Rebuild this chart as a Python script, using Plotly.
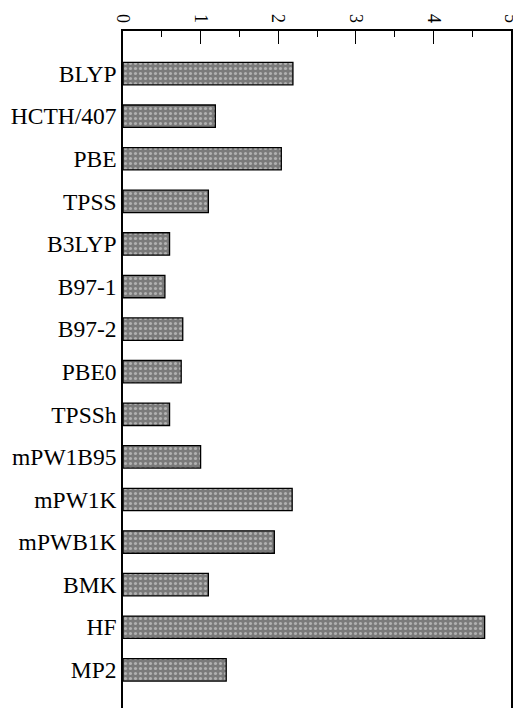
import plotly.graph_objects as go

methods = ["BLYP", "HCTH/407", "PBE", "TPSS", "B3LYP", "B97-1", "B97-2", "PBE0",
           "TPSSh", "mPW1B95", "mPW1K", "mPWB1K", "BMK", "HF", "MP2"]
values = [2.19, 1.19, 2.04, 1.10, 0.60, 0.54, 0.77, 0.75,
          0.60, 1.00, 2.18, 1.95, 1.10, 4.66, 1.33]
x_ticks = [0, 1, 2, 3, 4, 5]

fig = go.Figure()
fig.add_trace(go.Bar(
    x=values, y=methods, orientation="h", width=0.526,
    marker=dict(
        color="#7a7a7a",
        line=dict(color="black", width=1.3),
        pattern=dict(shape=".", fgcolor="#e8e8e8", bgcolor="#7a7a7a", size=5, solidity=0.3),
    ),
    showlegend=False,
))

font = "Liberation Serif"
fig.update_layout(
    width=513, height=700,
    margin=dict(l=115, r=10, t=23, b=0, autoexpand=False),
    paper_bgcolor="white", plot_bgcolor="white",
    font=dict(family=font, color="black"),
    xaxis=dict(
        side="top", range=[0, 5], tickvals=x_ticks, ticktext=[str(v) for v in x_ticks],
        tickangle=90, tickfont=dict(size=18, family=font), automargin=False,
        ticklabeloverflow="allow",
        ticks="inside", ticklen=13, tickwidth=1.3, tickcolor="black",
        minor=dict(dtick=0.5, ticks="inside", ticklen=6, tickwidth=1.3, tickcolor="black"),
        showline=True, linecolor="black", linewidth=1.5, mirror=True,
        showgrid=False, zeroline=False,
    ),
    xaxis2=dict(
        overlaying="x", side="bottom", anchor="y", range=[0, 5], tickvals=x_ticks,
        showticklabels=False, ticks="inside", ticklen=10, tickwidth=1.3, tickcolor="black",
        minor=dict(dtick=0.5, ticks="inside", ticklen=2, tickwidth=1.3, tickcolor="black"),
        showline=False, showgrid=False, zeroline=False, automargin=False,
    ),
    yaxis=dict(
        type="category", categoryorder="array", categoryarray=methods,
        range=[14.896, -1], tickfont=dict(size=23.5, family=font), automargin=False,
        ticks="",
        showline=True, linecolor="black", linewidth=1.5, mirror=True,
        showgrid=False, zeroline=False,
    ),
)

fig.write_html("out.html")
